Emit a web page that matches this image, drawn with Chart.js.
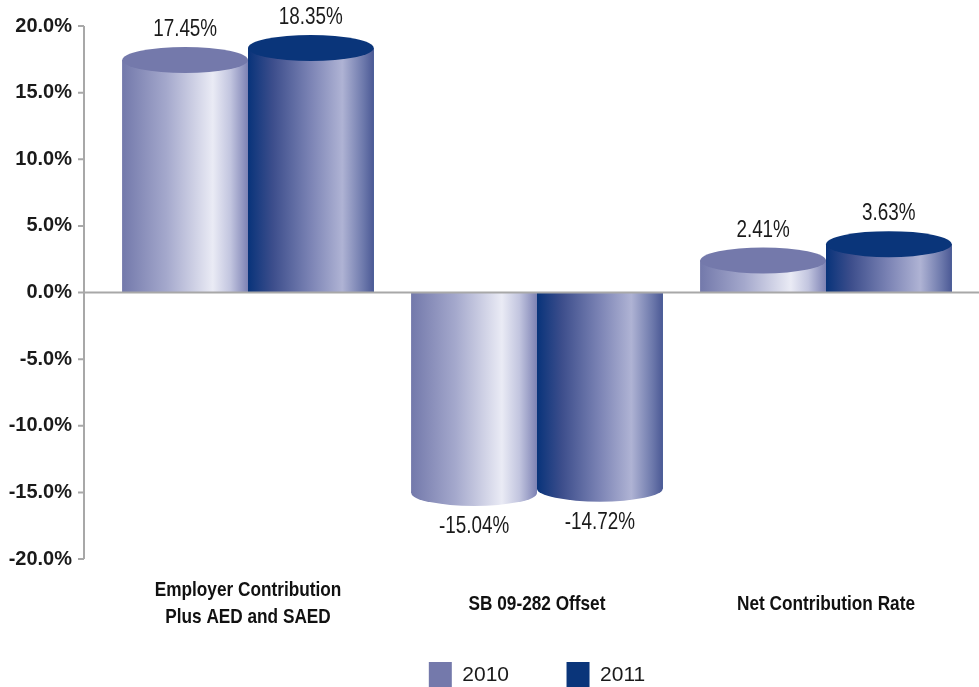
<!DOCTYPE html>
<html>
<head>
<meta charset="utf-8">
<script src="https://cdn.jsdelivr.net/npm/chart.js@4.4.1/dist/chart.umd.min.js"></script>
<style>
  html, body { margin: 0; padding: 0; background: #fff; overflow: hidden; }
  #wrap { width: 979px; height: 687px; }
</style>
</head>
<body>
<div id="wrap"><canvas id="chart"></canvas></div>
<script>
const categories = [['Employer Contribution', 'Plus AED and SAED'], 'SB 09-282 Offset', 'Net Contribution Rate'];
const seriesNames = ['2010', '2011'];
const values2010 = [17.45, -15.04, 2.41];
const values2011 = [18.35, -14.72, 3.63];
const yTicks = [20, 15, 10, 5, 0, -5, -10, -15, -20];

// flat colour for the legend swatch / cylinder cap, gradient stops for the body
const capColors = ['#7479ab', '#0a357a'];
const bodyStops = [
    [[0, '#7379ab'], [0.35, '#a4a8cc'], [0.72, '#eaebf5'], [0.86, '#c2c5df'], [1, '#7d82b4']],
    [[0, '#08337a'], [0.2, '#3d4e8c'], [0.5, '#7c84b5'], [0.75, '#afb3d4'], [0.92, '#6c78ab'], [1, '#4b5995']]
];
const axisGray = '#a8a8a8';
const CAP_RY = 13;
const NARROW = 0.82; // horizontal squeeze to get a condensed look from Liberation Sans

function narrowText(ctx, text, x, y, font, color) {
    ctx.save();
    ctx.translate(x, y);
    ctx.scale(NARROW, 1);
    ctx.font = font;
    ctx.fillStyle = color;
    ctx.textAlign = 'center';
    ctx.textBaseline = 'middle';
    ctx.fillText(text, 0, 0);
    ctx.restore();
}

const cylinders = {
    id: 'cylinders',
    afterDatasetsDraw(chart) {
        const ctx = chart.ctx;
        chart.data.datasets.forEach((ds, di) => {
            const meta = chart.getDatasetMeta(di);
            meta.data.forEach((bar, i) => {
                const left = bar.x - bar.width / 2;
                const grad = ctx.createLinearGradient(left, 0, left + bar.width, 0);
                bodyStops[di].forEach(([p, c]) => grad.addColorStop(p, c));

                ctx.save();
                // body
                ctx.fillStyle = grad;
                ctx.fillRect(left, Math.min(bar.y, bar.base), bar.width, Math.abs(bar.base - bar.y));
                // end cap at the value
                ctx.beginPath();
                ctx.ellipse(bar.x, bar.y, bar.width / 2, CAP_RY, 0, 0, Math.PI * 2);
                ctx.fillStyle = ds.data[i] >= 0 ? capColors[di] : grad;
                ctx.fill();
                ctx.restore();

                // value label
                const v = ds.data[i];
                const ly = v >= 0 ? bar.y - CAP_RY - 17 : bar.y + CAP_RY + 21;
                narrowText(ctx, v.toFixed(2) + '%', bar.x, ly, '23px "Liberation Sans", Arial, sans-serif', '#1a1a1a');
            });
        });
    },
    afterDraw(chart) {
        const ctx = chart.ctx;
        const x = chart.scales.x;
        const y = chart.scales.y;
        const ax = chart.chartArea.left - 19.5;
        ctx.save();
        ctx.strokeStyle = axisGray;
        ctx.lineWidth = 2;
        ctx.beginPath();
        ctx.moveTo(ax, y.getPixelForValue(yTicks[0]));
        ctx.lineTo(ax, y.getPixelForValue(yTicks[yTicks.length - 1]));
        yTicks.forEach(t => {
            const py = y.getPixelForValue(t);
            ctx.moveTo(ax - 6, py);
            ctx.lineTo(ax, py);
        });
        // zero line across the plot
        const zy = y.getPixelForValue(0);
        ctx.moveTo(ax, zy);
        ctx.lineTo(chart.width, zy);
        ctx.stroke();
        ctx.restore();

        // category names under each group, centred on two-line block
        const lineH = 27;
        x.getLabels().forEach((lbl, i) => {
            const lines = Array.isArray(lbl) ? lbl : [lbl];
            const cx = x.getPixelForValue(i);
            const y0 = chart.chartArea.bottom + 45 - (lines.length - 1) * lineH / 2;
            lines.forEach((t, k) => {
                narrowText(ctx, t, cx, y0 + k * lineH, 'bold 21px "Liberation Sans", Arial, sans-serif', '#111');
            });
        });
    }
};

const ctx = document.getElementById('chart').getContext('2d');
const chart = new Chart(ctx, {
    type: 'bar',
    data: {
        labels: categories,
        datasets: [
            { label: seriesNames[0], data: values2010, backgroundColor: capColors[0] },
            { label: seriesNames[1], data: values2011, backgroundColor: capColors[1] }
        ]
    },
    options: {
        responsive: true,
        maintainAspectRatio: false,
        animation: false,
        devicePixelRatio: 1,
        categoryPercentage: 0.87,
        barPercentage: 1,
        layout: { padding: { top: 26, right: 8.5, left: 0, bottom: -11 } },
        plugins: {
            tooltip: { enabled: false },
            legend: {
                position: 'bottom',
                fullSize: false,
                labels: {
                    boxWidth: 23,
                    boxHeight: 26,
                    padding: 57.5,
                    color: '#1a1a1a',
                    font: { family: '"Liberation Sans", Arial, sans-serif', size: 21 }
                }
            }
        },
        scales: {
            x: {
                grid: { display: false },
                border: { display: false },
                ticks: { display: false },
                afterFit: s => { s.height = 45.5; }
            },
            y: {
                min: -20,
                max: 20,
                grid: { display: false, drawTicks: false },
                border: { display: false },
                afterBuildTicks: s => { s.ticks = yTicks.map(v => ({ value: v })); },
                afterFit: s => {
                    s.width = 103.5;
                    s.paddingTop = 12;
                    s.paddingBottom = 12;
                },
                ticks: {
                    color: '#1a1a1a',
                    padding: 31.5,
                    font: { family: '"Liberation Sans", Arial, sans-serif', size: 20, weight: 'bold' },
                    callback: v => v.toFixed(1) + '%'
                }
            }
        }
    },
    plugins: [cylinders]
});
</script>
</body>
</html>
